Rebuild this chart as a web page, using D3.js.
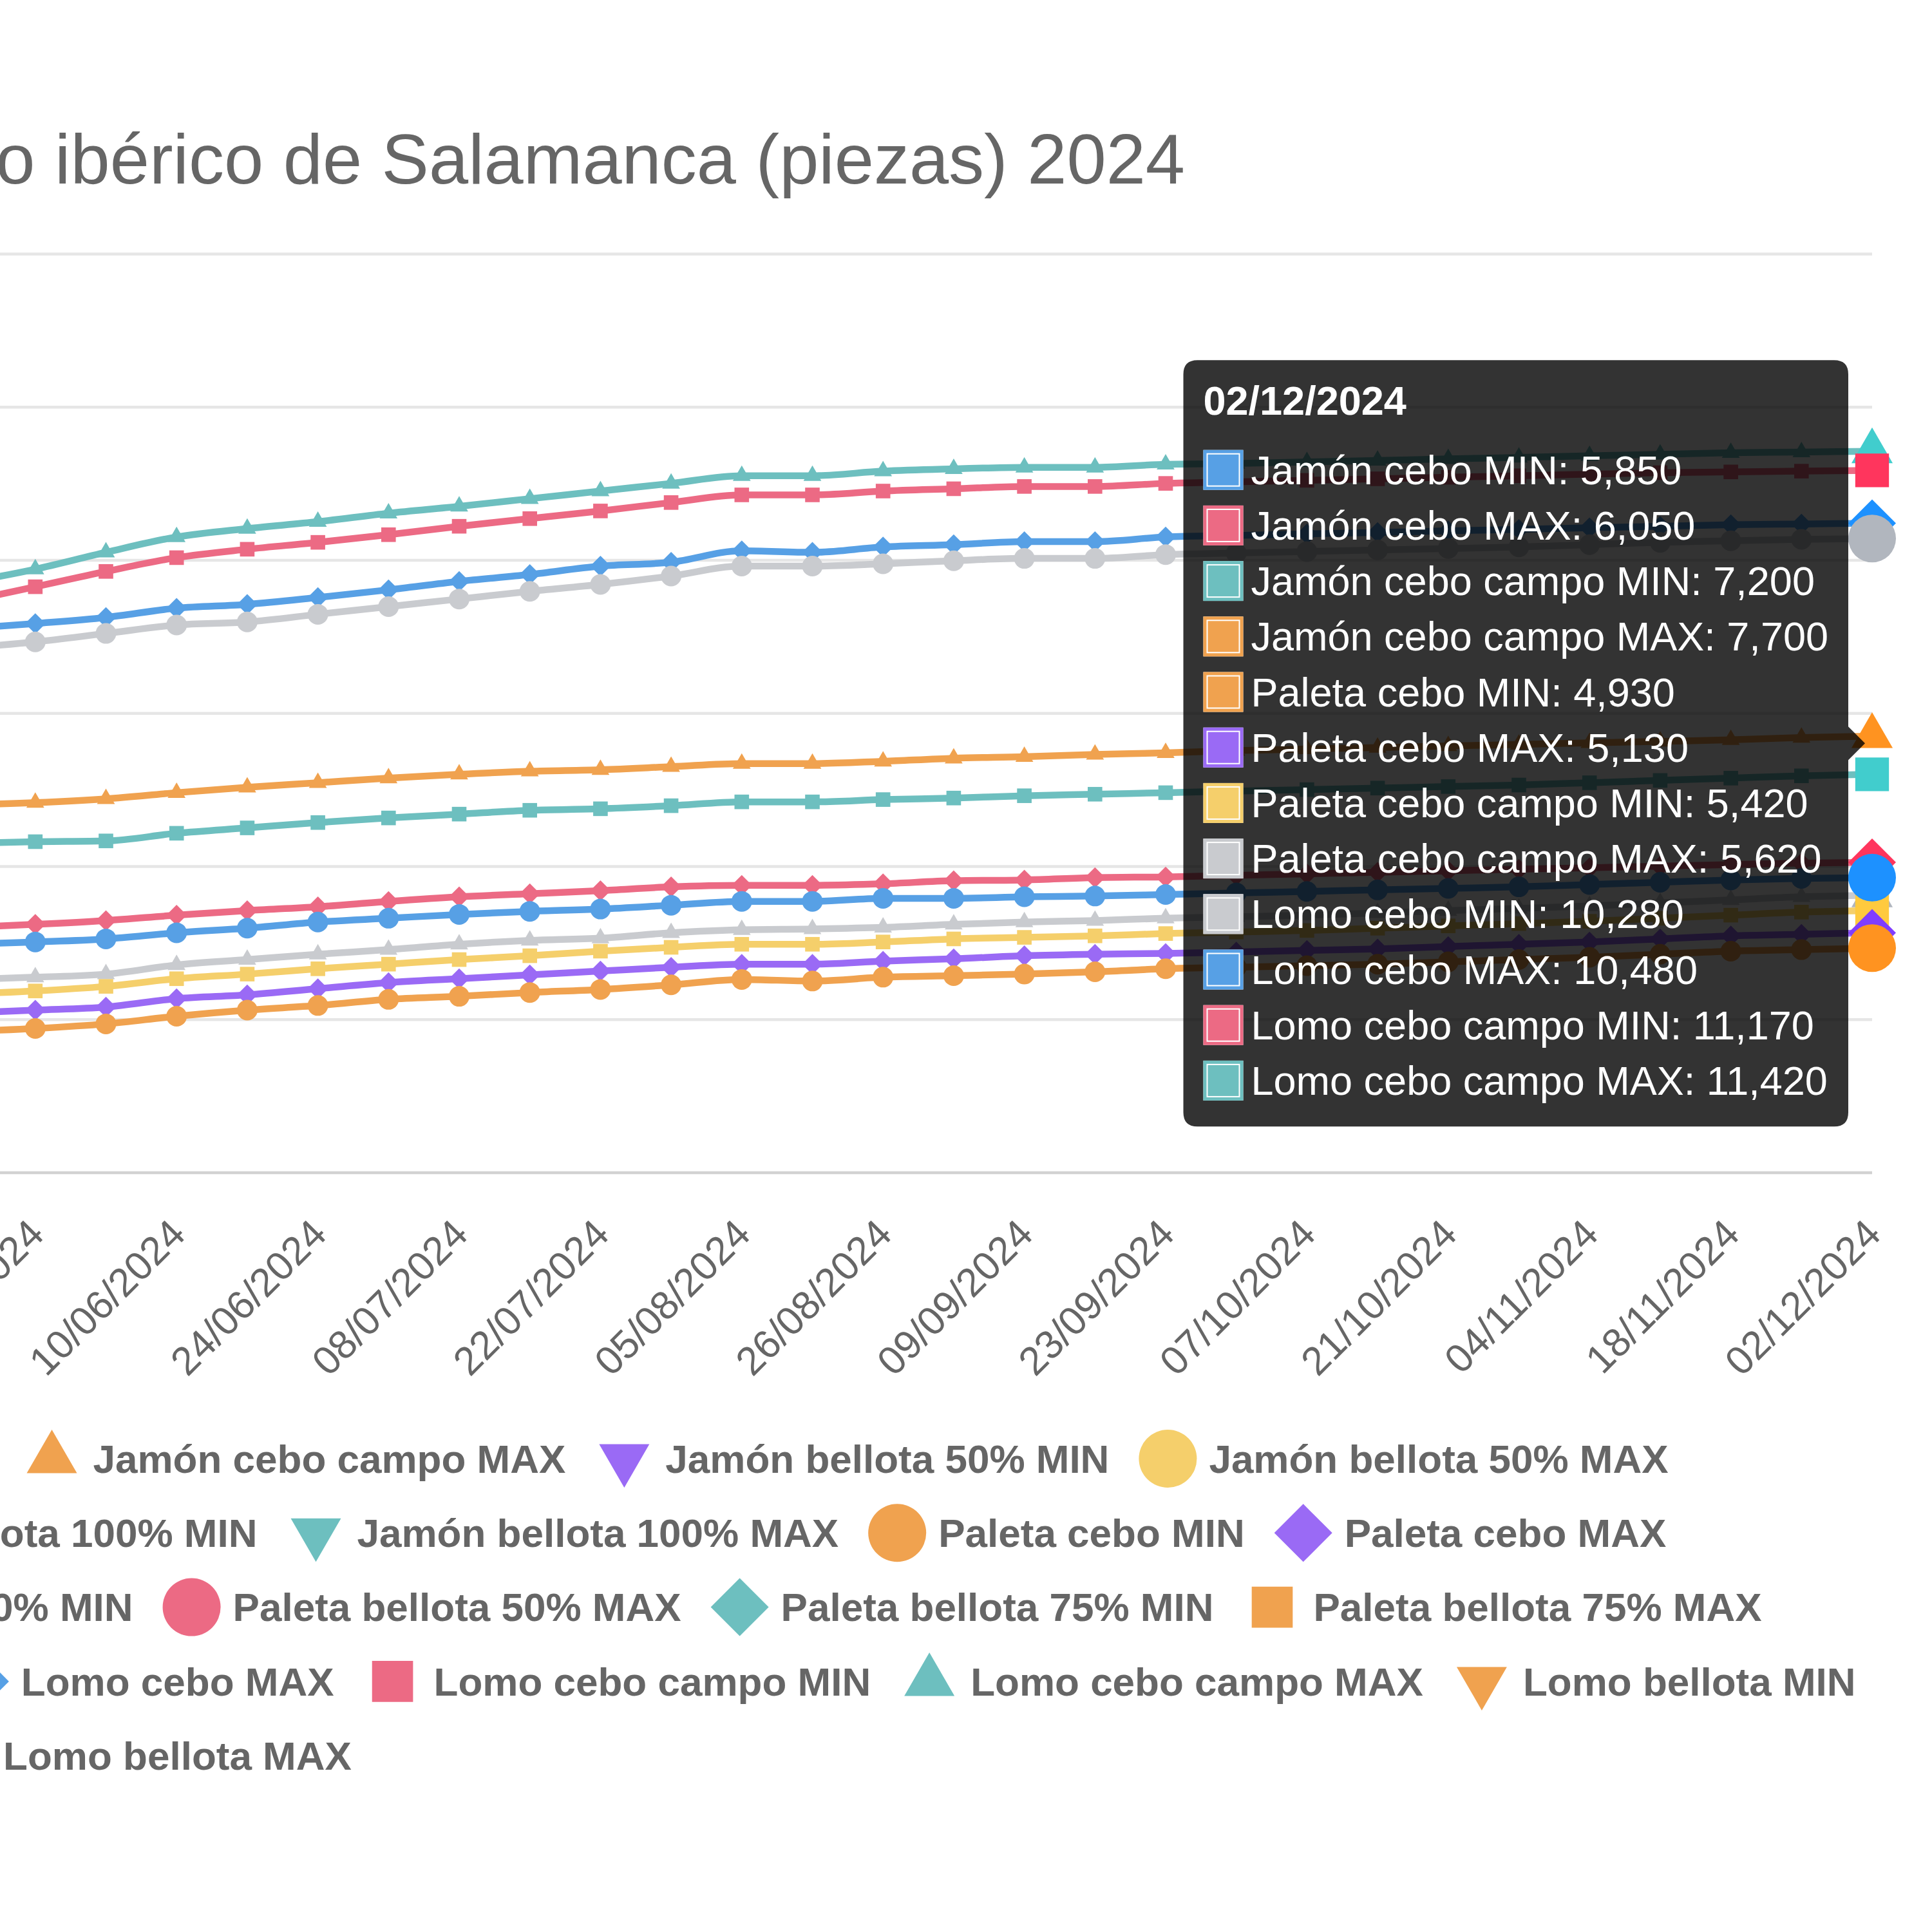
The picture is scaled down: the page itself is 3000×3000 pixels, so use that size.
<!DOCTYPE html>
<html>
<head>
<meta charset="utf-8">
<script src="https://cdn.jsdelivr.net/npm/d3@7"></script>
<style>
    body { margin: 0; background: #fff; }
    svg { display: block; font-family: "Liberation Sans", Arial, Helvetica, sans-serif; }
</style>
</head>
<body>
<svg id="chart"></svg>
<script>
let width = 3000;
let height = 3000;

// fechas del eje x (20/05 queda fuera del recorte, a la izquierda)
let dates = ["20/05/2024", "27/05/2024", "03/06/2024", "10/06/2024", "17/06/2024", "24/06/2024",
    "01/07/2024", "08/07/2024", "15/07/2024", "22/07/2024", "29/07/2024", "05/08/2024",
    "19/08/2024", "26/08/2024", "02/09/2024", "09/09/2024", "16/09/2024", "23/09/2024",
    "30/09/2024", "07/10/2024", "14/10/2024", "21/10/2024", "28/10/2024", "04/11/2024",
    "11/11/2024", "18/11/2024", "25/11/2024", "02/12/2024"];

let xTickLabels = ["27/05/2024", "10/06/2024", "24/06/2024", "08/07/2024", "22/07/2024",
    "05/08/2024", "26/08/2024", "09/09/2024", "23/09/2024", "07/10/2024", "21/10/2024",
    "04/11/2024", "18/11/2024", "02/12/2024"];

let yTicks = [2000, 4000, 6000, 8000, 10000, 12000, 14000];

let seriesNames = ["Jamón cebo MIN", "Jamón cebo MAX", "Jamón cebo campo MIN", "Jamón cebo campo MAX",
    "Jamón bellota 50% MIN", "Jamón bellota 50% MAX", "Jamón bellota 75% MIN", "Jamón bellota 75% MAX",
    "Jamón bellota 100% MIN", "Jamón bellota 100% MAX", "Paleta cebo MIN", "Paleta cebo MAX",
    "Paleta cebo campo MIN", "Paleta cebo campo MAX", "Paleta bellota 50% MIN", "Paleta bellota 50% MAX",
    "Paleta bellota 75% MIN", "Paleta bellota 75% MAX", "Paleta bellota 100% MIN", "Paleta bellota 100% MAX",
    "Lomo cebo MIN", "Lomo cebo MAX", "Lomo cebo campo MIN", "Lomo cebo campo MAX",
    "Lomo bellota MIN", "Lomo bellota MAX"];

// valores (una entrada por fecha)
let jamonCeboMin = [4980, 5010, 5050, 5130, 5190, 5270, 5320, 5370, 5410, 5440, 5490, 5540, 5540, 5580,
    5580, 5600, 5610, 5630, 5650, 5670, 5690, 5710, 5730, 5760, 5790, 5820, 5840, 5850];
let jamonCeboMax = [5200, 5240, 5290, 5360, 5420, 5470, 5540, 5600, 5640, 5680, 5730, 5750, 5750, 5770,
    5810, 5820, 5850, 5860, 5880, 5900, 5920, 5940, 5960, 5980, 6000, 6020, 6040, 6050];
let jamonCeboCampoMin = [6300, 6320, 6330, 6430, 6500, 6570, 6630, 6680, 6730, 6750, 6790, 6840, 6840, 6870,
    6890, 6920, 6940, 6960, 6980, 7000, 7020, 7040, 7060, 7090, 7120, 7150, 7180, 7200];
let jamonCeboCampoMax = [6800, 6830, 6880, 6960, 7030, 7090, 7150, 7200, 7240, 7260, 7300, 7340, 7340, 7370,
    7410, 7430, 7460, 7480, 7510, 7530, 7550, 7570, 7590, 7610, 7630, 7650, 7680, 7700];
let paletaCeboMin = [3840, 3880, 3940, 4040, 4120, 4180, 4260, 4300, 4350, 4390, 4450, 4520, 4500, 4550,
    4570, 4590, 4620, 4660, 4680, 4700, 4720, 4750, 4780, 4810, 4850, 4890, 4910, 4930];
let paletaCeboMax = [4080, 4120, 4160, 4270, 4320, 4400, 4480, 4530, 4580, 4630, 4680, 4720, 4720, 4760,
    4790, 4830, 4850, 4860, 4880, 4900, 4920, 4950, 4980, 5010, 5050, 5090, 5110, 5130];
let paletaCeboCampoMin = [4330, 4370, 4430, 4530, 4590, 4660, 4720, 4780, 4830, 4890, 4940, 4980, 4980, 5010,
    5050, 5070, 5090, 5120, 5140, 5160, 5190, 5220, 5250, 5280, 5320, 5360, 5400, 5420];
let paletaCeboCampoMax = [4520, 4550, 4590, 4710, 4780, 4850, 4910, 4980, 5030, 5060, 5130, 5170, 5180, 5200,
    5240, 5270, 5290, 5320, 5340, 5360, 5390, 5420, 5450, 5480, 5520, 5560, 5600, 5620];
let lomoCeboMin = [8850, 8930, 9040, 9150, 9190, 9290, 9390, 9490, 9590, 9680, 9790, 9920, 9920, 9950,
    9990, 10020, 10020, 10070, 10090, 10110, 10130, 10150, 10170, 10200, 10230, 10250, 10270, 10280];
let lomoCeboMax = [9100, 9170, 9250, 9370, 9420, 9510, 9610, 9720, 9810, 9920, 9970, 10120, 10100, 10170,
    10200, 10240, 10240, 10300, 10320, 10340, 10360, 10380, 10400, 10420, 10440, 10460, 10470, 10480];
let lomoCeboCampoMin = [9450, 9650, 9850, 10030, 10140, 10230, 10330, 10440, 10540, 10640, 10750, 10850, 10850, 10900,
    10930, 10960, 10960, 11000, 11020, 11040, 11060, 11080, 11100, 11120, 11140, 11150, 11160, 11170];
let lomoCeboCampoMax = [9700, 9880, 10100, 10300, 10410, 10500, 10610, 10700, 10800, 10900, 11000, 11100, 11100, 11160,
    11190, 11210, 11210, 11250, 11260, 11280, 11300, 11320, 11340, 11360, 11380, 11400, 11410, 11420];

// series con datos en este tramo (índice en seriesNames)
let seriesData = [
    {index: 0, values: jamonCeboMin},
    {index: 1, values: jamonCeboMax},
    {index: 2, values: jamonCeboCampoMin},
    {index: 3, values: jamonCeboCampoMax},
    {index: 10, values: paletaCeboMin},
    {index: 11, values: paletaCeboMax},
    {index: 12, values: paletaCeboCampoMin},
    {index: 13, values: paletaCeboCampoMax},
    {index: 20, values: lomoCeboMin},
    {index: 21, values: lomoCeboMax},
    {index: 22, values: lomoCeboCampoMin},
    {index: 23, values: lomoCeboCampoMax}
];

let palette = ["#57a0e5", "#ec6a84", "#6dbfbf", "#f0a24f", "#9a6af5", "#f5cf6b", "#c9cbcf"];
let pointStyles = ["circle", "rectRot", "rect", "triangle", "triangleDown"];

function colorOf(i) { return palette[i % palette.length]; }
function styleOf(i) { return pointStyles[i % pointStyles.length]; }
function hoverColor(c) {
    let h = d3.hsl(c);
    h.s = Math.min(1, h.s * 1.5);
    h.l = h.l * 0.9;
    return h.formatHex();
}

// forma de punto como en Chart.js
function shapePath(style, r) {
    let s = r * Math.SQRT1_2;
    let t = r * Math.sqrt(3) / 2;
    if (style === "circle") return `M${-r},0A${r},${r} 0 1,0 ${r},0A${r},${r} 0 1,0 ${-r},0Z`;
    if (style === "rect") return `M${-s},${-s}H${s}V${s}H${-s}Z`;
    if (style === "rectRot") return `M0,${-r}L${r},0L0,${r}L${-r},0Z`;
    if (style === "triangle") return `M0,${-r}L${t},${r / 2}L${-t},${r / 2}Z`;
    return `M0,${r}L${t},${-r / 2}L${-t},${-r / 2}Z`;
}

let plotLeft = -2300;
let plotRight = 2907;
let plotTop = 394;
let plotBottom = 1820.5;
let step = 109.7;

let svg = d3.select("svg")
    .attr("width", width)
    .attr("height", height);

svg.append("rect").attr("width", width).attr("height", height).attr("fill", "#fff");

let scaleX = d3.scalePoint()
    .domain(dates)
    .range([plotRight - step * (dates.length - 1), plotRight]);

let scaleY = d3.scaleLinear()
    .domain([yTicks[0], yTicks[yTicks.length - 1]])
    .range([plotBottom, plotTop]);

// título
svg.append("text")
    .attr("x", 1840)
    .attr("y", 285)
    .attr("text-anchor", "end")
    .attr("font-size", 110)
    .attr("fill", "#666")
    .text("Precio del cerdo ibérico de Salamanca (piezas) 2024");

// rejilla horizontal
svg.append("g")
    .attr("class", "y-axis")
    .attr("transform", `translate(${plotLeft}, 0)`)
    .call(d3.axisLeft(scaleY).tickValues(yTicks).tickSize(-(plotRight - plotLeft)).tickFormat(d3.format(",")))
    .call(g => g.select(".domain").remove())
    .call(g => g.selectAll("line")
        .attr("stroke", d => d === yTicks[0] ? "#d2d2d2" : "#e6e6e6")
        .attr("stroke-width", 4.5))
    .call(g => g.selectAll("text").attr("font-size", 64).attr("fill", "#666"));

// etiquetas de fechas
svg.append("g")
    .attr("class", "x-axis")
    .attr("transform", `translate(0, ${plotBottom})`)
    .call(d3.axisBottom(scaleX).tickValues(xTickLabels).tickSize(0).tickPadding(0))
    .call(g => g.select(".domain").remove())
    .selectAll("text")
    .attr("font-size", 62)
    .attr("fill", "#666")
    .attr("y", 0)
    .attr("dy", "0.35em")
    .style("text-anchor", "end")
    .attr("transform", "translate(1, 84) rotate(-45)");

let line = d3.line()
    .x((d, i) => scaleX(dates[i]))
    .y(d => scaleY(d))
    .curve(d3.curveMonotoneX);

let last = dates.length - 1;

// se dibuja al revés: la serie 0 queda encima
let drawOrder = seriesData.slice().reverse();
drawOrder.forEach(function (s) {
    let color = colorOf(s.index);
    let g = svg.append("g");
    g.append("path")
        .attr("d", line(s.values))
        .attr("fill", "none")
        .attr("stroke", color)
        .attr("stroke-width", 10.5)
        .attr("stroke-linejoin", "round");
    g.selectAll(".pt")
        .data(s.values.slice(0, last))
        .enter()
        .append("path")
        .attr("d", shapePath(styleOf(s.index), 16))
        .attr("transform", (d, i) => `translate(${scaleX(dates[i])}, ${scaleY(d)})`)
        .attr("fill", color);
    // punto activo (último)
    g.append("path")
        .attr("d", shapePath(styleOf(s.index), 37))
        .attr("transform", `translate(${scaleX(dates[last])}, ${scaleY(s.values[last])})`)
        .attr("fill", hoverColor(color));
});

// leyenda
let legendFont = 62;
let legendLead = 95;      // desde el borde del item hasta el texto
let legendPad = 60;
let legendMaxWidth = 5440;
let legendCenter = 228;
let legendFirstRow = 2265;
let legendRowStep = 115.3;

let legend = svg.append("g").attr("class", "legend");
let items = seriesNames.map(function (name, i) {
    let t = legend.append("text")
        .attr("font-size", legendFont)
        .attr("font-weight", "bold")
        .attr("fill", "#666")
        .attr("dy", "0.35em")
        .text(name);
    return {i: i, text: t, w: legendLead + t.node().getComputedTextLength()};
});

let rows = [[]];
let rowW = [0];
items.forEach(function (it) {
    let r = rows.length - 1;
    let need = rows[r].length ? rowW[r] + legendPad + it.w : it.w;
    if (rows[r].length && need > legendMaxWidth) {
        rows.push([it]);
        rowW.push(it.w);
    } else {
        rows[r].push(it);
        rowW[r] = need;
    }
});

rows.forEach(function (row, r) {
    let x = legendCenter - rowW[r] / 2;
    let y = legendFirstRow + r * legendRowStep;
    row.forEach(function (it) {
        legend.append("path")
            .attr("d", shapePath(styleOf(it.i), 45))
            .attr("transform", `translate(${x + 31}, ${y})`)
            .attr("fill", colorOf(it.i));
        it.text.attr("x", x + legendLead).attr("y", y);
        x += it.w + legendPad;
    });
});

// tooltip del 02/12/2024
let tipPad = 31;
let tipBox = 62;
let tipRowStep = 86.2;
let tipFont = 63;
let caretSize = 26;

let caretY = d3.mean(seriesData, s => scaleY(s.values[last]));
let pointX = scaleX(dates[last]);

let tip = svg.append("g");
let tipPath = tip.append("path").attr("fill", "rgba(0,0,0,0.8)");

let rowsText = seriesData.map(s => seriesNames[s.index] + ": " + d3.format(",")(s.values[last]));
let bodyTexts = rowsText.map(t => tip.append("text")
    .attr("font-size", tipFont)
    .attr("fill", "#fff")
    .text(t));
let maxW = d3.max(bodyTexts, t => t.node().getComputedTextLength());

let boxW = tipPad + tipBox + 12 + maxW + tipPad;
let boxH = tipPad + 74.4 + tipPad + (rowsText.length - 1) * tipRowStep + 74.4 + tipPad;
let boxRight = pointX - caretSize - 11;
let boxLeft = boxRight - boxW;
let boxTop = caretY - boxH / 2;
let rad = 22;

tipPath.attr("d",
    `M${boxLeft + rad},${boxTop}H${boxRight - rad}Q${boxRight},${boxTop} ${boxRight},${boxTop + rad}` +
    `V${caretY - caretSize}L${boxRight + caretSize},${caretY}L${boxRight},${caretY + caretSize}` +
    `V${boxTop + boxH - rad}Q${boxRight},${boxTop + boxH} ${boxRight - rad},${boxTop + boxH}` +
    `H${boxLeft + rad}Q${boxLeft},${boxTop + boxH} ${boxLeft},${boxTop + boxH - rad}` +
    `V${boxTop + rad}Q${boxLeft},${boxTop} ${boxLeft + rad},${boxTop}Z`);

tip.append("text")
    .attr("x", boxLeft + tipPad)
    .attr("y", boxTop + tipPad + 54)
    .attr("font-size", tipFont)
    .attr("font-weight", "bold")
    .attr("fill", "#fff")
    .text(dates[last]);

let firstRow = boxTop + tipPad + 74.4 + tipPad + 34;
seriesData.forEach(function (s, k) {
    let cy = firstRow + k * tipRowStep;
    let bx = boxLeft + tipPad;
    let color = colorOf(s.index);
    tip.append("rect").attr("x", bx).attr("y", cy - tipBox / 2)
        .attr("width", tipBox).attr("height", tipBox).attr("fill", "#fff");
    tip.append("rect").attr("x", bx + 2.5).attr("y", cy - tipBox / 2 + 2.5)
        .attr("width", tipBox - 5).attr("height", tipBox - 5)
        .attr("fill", "none").attr("stroke", color).attr("stroke-width", 5);
    tip.append("rect").attr("x", bx + 7).attr("y", cy - tipBox / 2 + 7)
        .attr("width", tipBox - 14).attr("height", tipBox - 14).attr("fill", color);
    bodyTexts[k].raise()
        .attr("x", bx + tipBox + 12)
        .attr("y", cy + 22);
});
</script>
</body>
</html>
